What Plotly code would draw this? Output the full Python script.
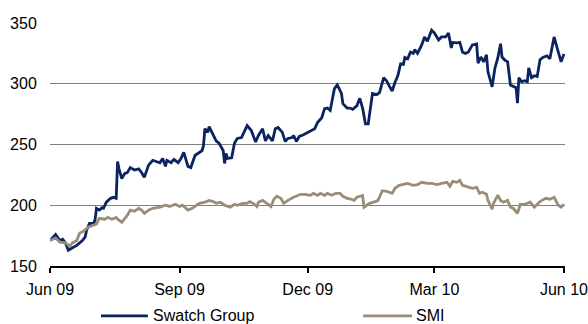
import plotly.graph_objects as go

swatch_dates = [
    "2009-06-01","2009-06-05","2009-06-08","2009-06-10","2009-06-12","2009-06-14","2009-06-17","2009-06-20",
    "2009-06-24","2009-06-26","2009-06-27","2009-06-29","2009-07-02","2009-07-03","2009-07-04","2009-07-06",
    "2009-07-08","2009-07-09","2009-07-11","2009-07-14","2009-07-16","2009-07-18","2009-07-19","2009-07-20",
    "2009-07-22","2009-07-24","2009-07-26","2009-07-28","2009-07-31","2009-08-03","2009-08-05","2009-08-07",
    "2009-08-10","2009-08-13","2009-08-18","2009-08-20","2009-08-22","2009-08-23","2009-08-26","2009-08-28",
    "2009-08-31","2009-09-02","2009-09-04","2009-09-06","2009-09-07","2009-09-09","2009-09-12","2009-09-14",
    "2009-09-17","2009-09-18","2009-09-19","2009-09-21","2009-09-22","2009-09-24","2009-09-27","2009-09-29",
    "2009-10-02","2009-10-03","2009-10-04","2009-10-05","2009-10-08","2009-10-10","2009-10-12","2009-10-15",
    "2009-10-17","2009-10-19","2009-10-22","2009-10-25","2009-10-27","2009-10-30","2009-11-01","2009-11-03",
    "2009-11-06","2009-11-08","2009-11-10","2009-11-13","2009-11-15","2009-11-17","2009-11-20","2009-11-21",
    "2009-11-23","2009-11-25","2009-11-28","2009-12-01","2009-12-04","2009-12-06","2009-12-08","2009-12-11",
    "2009-12-13","2009-12-15","2009-12-17","2009-12-19","2009-12-20","2009-12-22","2009-12-25","2009-12-26",
    "2009-12-29","2009-12-31","2010-01-02","2010-01-05","2010-01-07","2010-01-09","2010-01-11","2010-01-13",
    "2010-01-15","2010-01-16","2010-01-19","2010-01-21","2010-01-24","2010-01-26","2010-01-28","2010-01-30",
    "2010-02-01","2010-02-03","2010-02-05","2010-02-07","2010-02-08","2010-02-10","2010-02-12","2010-02-14",
    "2010-02-15","2010-02-17","2010-02-20","2010-02-22","2010-02-24","2010-02-26","2010-02-27","2010-03-01",
    "2010-03-04","2010-03-06","2010-03-09","2010-03-11","2010-03-13","2010-03-14","2010-03-17","2010-03-19",
    "2010-03-21","2010-03-23","2010-03-25","2010-03-28","2010-03-31","2010-04-01","2010-04-03","2010-04-05",
    "2010-04-07","2010-04-08","2010-04-11","2010-04-13","2010-04-15","2010-04-17","2010-04-18","2010-04-20",
    "2010-04-22","2010-04-24","2010-04-26","2010-04-28","2010-04-29","2010-04-30","2010-05-02","2010-05-04",
    "2010-05-06","2010-05-07","2010-05-09","2010-05-11","2010-05-13","2010-05-15","2010-05-17","2010-05-20",
    "2010-05-22","2010-05-25","2010-05-28","2010-05-30","2010-06-01",
]
swatch_values = [
    171, 176, 171, 172, 169, 163, 165, 167,
    171, 174, 179.5, 185, 185, 188, 197.5, 196,
    198, 197.5, 202.5, 205.7, 206.5, 205.7, 236, 230,
    222, 226, 227, 231, 229, 230, 227, 223,
    233, 237, 235, 238.5, 232, 237, 235, 237.7,
    235, 238.5, 243.5, 237, 232, 231, 241, 242.6,
    245, 249, 263, 260, 264.7, 260, 253, 251,
    245, 234.4, 242.6, 238.5, 239, 251, 255, 255.7,
    260, 265.6, 261.5, 252, 257.4, 263, 253, 257.4,
    253, 263, 264, 260, 252.5, 255, 255.7, 257.4,
    252.5, 256.6, 258, 260, 262, 263, 268, 272,
    279.5, 280, 278, 288.5, 296, 299, 292, 283.6,
    280, 280, 279, 282, 288, 280, 267, 267,
    283.6, 292, 291, 292.6, 305, 302.5, 298, 294,
    301, 306.6, 316.4, 316, 321.6, 320.5, 326, 325,
    328, 325, 332, 338.5, 335, 341.8, 344, 341.8,
    336, 338.5, 338.5, 341.8, 329.5, 334, 333.6, 334,
    326, 325, 326, 332, 332.8, 317, 322, 318,
    323.8, 310, 297.5, 313, 321, 333, 322, 319.5,
    318, 299, 297.5, 296.7, 284, 305, 301.6, 302.5,
    301.6, 313, 305, 306.6, 306, 319.7, 321.6, 323,
    320.5, 338.5, 326, 318, 324.6,
]

smi_dates = [
    "2009-06-01","2009-06-05","2009-06-08","2009-06-12","2009-06-15","2009-06-17","2009-06-20","2009-06-22",
    "2009-06-25","2009-06-28","2009-07-02","2009-07-04","2009-07-06","2009-07-10","2009-07-12","2009-07-15",
    "2009-07-18","2009-07-19","2009-07-22","2009-07-26","2009-07-28","2009-07-31","2009-08-03","2009-08-05",
    "2009-08-07","2009-08-10","2009-08-13","2009-08-18","2009-08-22","2009-08-25","2009-08-29","2009-09-01",
    "2009-09-03","2009-09-07","2009-09-10","2009-09-13","2009-09-15","2009-09-19","2009-09-22","2009-09-25",
    "2009-09-27","2009-09-30","2009-10-03","2009-10-07","2009-10-10","2009-10-12","2009-10-16","2009-10-19",
    "2009-10-21","2009-10-24","2009-10-26","2009-10-27","2009-10-30","2009-11-02","2009-11-05","2009-11-07",
    "2009-11-09","2009-11-12","2009-11-14","2009-11-17","2009-11-21","2009-11-26","2009-11-29","2009-12-03",
    "2009-12-05","2009-12-08","2009-12-10","2009-12-13","2009-12-15","2009-12-18","2009-12-21","2009-12-24",
    "2009-12-26","2009-12-29","2009-12-31","2010-01-03","2010-01-05","2010-01-09","2010-01-10","2010-01-12",
    "2010-01-14","2010-01-18","2010-01-20","2010-01-23","2010-01-26","2010-01-30","2010-02-01","2010-02-04",
    "2010-02-07","2010-02-10","2010-02-14","2010-02-17","2010-02-20","2010-02-24","2010-02-27","2010-03-03",
    "2010-03-06","2010-03-10","2010-03-12","2010-03-14","2010-03-17","2010-03-19","2010-03-21","2010-03-25",
    "2010-03-28","2010-03-31","2010-04-02","2010-04-04","2010-04-07","2010-04-08","2010-04-11","2010-04-12",
    "2010-04-15","2010-04-17","2010-04-19","2010-04-22","2010-04-24","2010-04-26","2010-04-29","2010-05-01",
    "2010-05-04","2010-05-06","2010-05-08","2010-05-11","2010-05-15","2010-05-19","2010-05-22","2010-05-25",
    "2010-05-28","2010-05-30","2010-06-01",
]
smi_values = [
    171, 173, 169.7, 169, 166.4, 169, 171, 177,
    178.7, 182, 183.6, 184.4, 189.3, 188.5, 190, 188.5,
    190, 188.5, 186, 191.8, 196, 195, 197.5, 196,
    193.4, 196, 197.5, 198.4, 200, 199, 200.8, 199,
    200, 196, 197.5, 200, 201.6, 202.5, 204, 203,
    201.6, 202.5, 200, 198.4, 200.8, 200, 201.6, 201.6,
    203, 201, 199, 202.5, 204, 201.6, 199, 205,
    207.4, 205.7, 201.6, 204, 206.6, 209, 209, 208.2,
    209.8, 208.2, 209.8, 208.2, 209.8, 208.2, 209.8, 209.8,
    207.4, 205.7, 205.3, 204, 206.6, 208, 198.4, 200,
    201.6, 203, 204, 212, 211.5, 209.8, 214, 216.4,
    217, 218, 216.4, 217, 218.9, 218, 218, 217,
    218, 218.9, 215.6, 219.7, 218.9, 220.5, 216.4, 214.8,
    214, 214.8, 209.8, 210.7, 209, 204, 196.7, 201.6,
    208.2, 204, 202.5, 204, 198.4, 197.5, 193.4, 200.8,
    200.8, 201.6, 202.5, 198.4, 203, 205.7, 205, 206.6,
    200, 198.4, 200.8,
]

series_names = ["Swatch Group", "SMI"]
series_colors = ["#0B2460", "#9A8D78"]

tick_dates = ["2009-06-01", "2009-09-01", "2009-12-01", "2010-03-01", "2010-06-01"]
tick_labels = ["Jun 09", "Sep 09", "Dec 09", "Mar 10", "Jun 10"]
y_ticks = [150, 200, 250, 300, 350]

FONT = "Liberation Sans, Arial, sans-serif"
FS = 16

fig = go.Figure()
fig.add_trace(go.Scatter(x=swatch_dates, y=swatch_values, mode="lines", name=series_names[0],
                         line=dict(color=series_colors[0], width=2.8), showlegend=False))
fig.add_trace(go.Scatter(x=smi_dates, y=smi_values, mode="lines", name=series_names[1],
                         line=dict(color=series_colors[1], width=2.8), showlegend=False))

# manual legend below the plot (paper coordinates)
leg = [(0.099, 0.190, 0.196), (0.608, 0.703, 0.707)]
for (x0, x1, xt), name, col in zip(leg, series_names, series_colors):
    fig.add_shape(type="line", xref="paper", yref="paper", x0=x0, x1=x1, y0=-0.205, y1=-0.205,
                  line=dict(color=col, width=2.8))
    fig.add_annotation(xref="paper", yref="paper", x=xt, y=-0.203, text=name, showarrow=False,
                       xanchor="left", yanchor="middle", font=dict(family=FONT, size=FS, color="#000"))

fig.update_layout(
    width=588, height=324,
    margin=dict(l=50, r=23, t=23, b=58, autoexpand=False),
    paper_bgcolor="white", plot_bgcolor="white",
    font=dict(family=FONT, size=FS, color="#000"),
    showlegend=False,
    xaxis=dict(
        type="date", range=["2009-06-01", "2010-06-01 18:00"],
        tickvals=tick_dates, ticktext=tick_labels,
        showline=True, linecolor="#000", linewidth=2,
        ticks="outside", ticklen=5, tickwidth=2, tickcolor="#000",
        ticklabelstandoff=3, ticklabeloverflow="allow",
        showgrid=False, zeroline=False, automargin=False,
        tickfont=dict(family=FONT, size=FS, color="#000"),
    ),
    yaxis=dict(
        range=[150, 350], tickvals=y_ticks,
        showgrid=True, gridcolor="#808080", gridwidth=1,
        zeroline=False, showline=False, automargin=False,
        ticks="outside", ticklen=9, tickcolor="rgba(0,0,0,0)",
        tickfont=dict(family=FONT, size=FS, color="#000"),
    ),
)

fig.write_html("out.html")
